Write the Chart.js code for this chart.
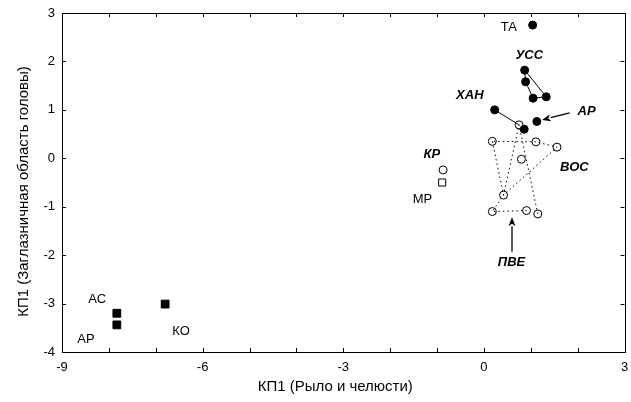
<!DOCTYPE html>
<html>
<head>
<meta charset="utf-8">
<script src="https://cdn.jsdelivr.net/npm/chart.js@4"></script>
<style>
html,body{margin:0;padding:0;background:#fff;}
canvas{display:block;}
</style>
</head>
<body>
<canvas id="c" width="631" height="402"></canvas>
<script>
// ---- data ----
const filledCirclesX = [1.04, 0.87, 0.89, 1.05, 1.33, 0.23, 0.86, 1.13];
const filledCirclesY = [2.75, 1.82, 1.58, 1.24, 1.27, 1.00, 0.60, 0.76];

const openCirclesX = [0.75, 0.18, 1.11, 1.56, 0.80, 0.42, 0.18, 0.91, 1.15, -0.87];
const openCirclesY = [0.69, 0.35, 0.34, 0.23, -0.02, -0.76, -1.10, -1.08, -1.15, -0.24];

const filledSquaresX = [-7.83, -7.83, -6.80];
const filledSquaresY = [-3.20, -3.44, -3.01];

const openSquaresX = [-0.89];
const openSquaresY = [-0.50];

// solid outlines
const ussPolyX = [0.87, 0.89, 1.05, 1.33, 0.87];
const ussPolyY = [1.82, 1.58, 1.24, 1.27, 1.82];
const hanLineX = [0.23, 0.75];
const hanLineY = [1.00, 0.69];

// dotted outlines
const dotPolyAX = [1.15, 0.75, 0.42, 0.18, 0.91];
const dotPolyAY = [-1.15, 0.69, -0.76, -1.10, -1.08];
const dotPolyBX = [0.18, 0.42, 1.56, 1.11, 0.18];
const dotPolyBY = [0.35, -0.76, 0.23, 0.34, 0.35];

// arrows: [tailX, tailY, tipX, tipY]
const arrowAP = [1.83, 0.94, 1.24, 0.79];
const arrowPVE = [0.60, -1.93, 0.60, -1.22];

// text labels
const labelText = ['ТА', 'УСС', 'ХАН', 'АР', 'ВОС', 'КР', 'МР', 'ПВЕ', 'АС', 'АР', 'КО'];
const labelX    = [0.53, 0.97, -0.30, 2.19, 1.93, -1.11, -1.31, 0.59, -8.25, -8.49, -6.46];
const labelY    = [2.71, 2.13, 1.29, 0.96, -0.18, 0.09, -0.84, -2.14, -2.91, -3.75, -3.57];
const labelBold = [false, true, true, true, true, true, false, true, false, false, false];

const xTitle = 'КП1 (Рыло и челюсти)';
const yTitle = 'КП1 (Заглазничная область головы)';
const xMin = -9, xMax = 3, yMin = -4, yMax = 3;

// ---- build ----
const pts = (xs, ys) => xs.map((x, i) => ({x, y: ys[i]}));
const FONT = "'Liberation Sans', Arial, sans-serif";

const lineDs = (xs, ys, dash) => ({
  type: 'line', data: pts(xs, ys), showLine: true, pointRadius: 0,
  borderColor: '#000', borderWidth: 1, borderDash: dash, fill: false,
  tension: 0, order: 5
});

const decor = {
  id: 'decor',
  afterDatasetsDraw(chart) {
    const {ctx, chartArea: a, scales: {x, y}} = chart;
    ctx.save();
    // box
    ctx.strokeStyle = '#000';
    ctx.lineWidth = 1;
    ctx.strokeRect(Math.round(a.left) + 0.5, Math.round(a.top) + 0.5,
                   Math.round(a.right - a.left), Math.round(a.bottom - a.top));
    // inward ticks
    const tl = 4;
    ctx.beginPath();
    x.ticks.forEach(t => {
      const px = Math.round(x.getPixelForValue(t.value)) + 0.5;
      ctx.moveTo(px, a.bottom); ctx.lineTo(px, a.bottom - tl);
      ctx.moveTo(px, a.top); ctx.lineTo(px, a.top + tl);
    });
    y.ticks.forEach(t => {
      const py = Math.round(y.getPixelForValue(t.value)) + 0.5;
      ctx.moveTo(a.left, py); ctx.lineTo(a.left + tl, py);
      ctx.moveTo(a.right, py); ctx.lineTo(a.right - tl, py);
    });
    ctx.stroke();
    // arrows
    [arrowAP, arrowPVE].forEach(ar => {
      const x0 = x.getPixelForValue(ar[0]), y0 = y.getPixelForValue(ar[1]);
      const x1 = x.getPixelForValue(ar[2]), y1 = y.getPixelForValue(ar[3]);
      const ang = Math.atan2(y1 - y0, x1 - x0);
      const hl = 9, hw = 3.5;
      const bx = x1 - hl * Math.cos(ang), by = y1 - hl * Math.sin(ang);
      ctx.beginPath();
      ctx.moveTo(x0, y0); ctx.lineTo(bx, by);
      ctx.lineWidth = 1.3;
      ctx.stroke();
      ctx.beginPath();
      ctx.moveTo(x1, y1);
      ctx.lineTo(bx + hw * Math.sin(ang), by - hw * Math.cos(ang));
      ctx.lineTo(x1 - (hl - 2.5) * Math.cos(ang), y1 - (hl - 2.5) * Math.sin(ang));
      ctx.lineTo(bx - hw * Math.sin(ang), by + hw * Math.cos(ang));
      ctx.closePath();
      ctx.fillStyle = '#000';
      ctx.fill();
    });
    // labels
    ctx.textAlign = 'center';
    ctx.textBaseline = 'middle';
    ctx.fillStyle = '#000';
    labelText.forEach((s, i) => {
      ctx.font = (labelBold[i] ? 'italic bold 13px ' : '13px ') + FONT;
      ctx.fillText(s, x.getPixelForValue(labelX[i]), y.getPixelForValue(labelY[i]));
    });
    // axis titles
    ctx.font = '15px ' + FONT;
    ctx.fillText(xTitle, (a.left + a.right) / 2 - 8, a.bottom + 35);
    ctx.save();
    ctx.translate(24, (a.top + a.bottom) / 2 + 9);
    ctx.rotate(-Math.PI / 2);
    ctx.fillText(yTitle, 0, 0);
    ctx.restore();
    ctx.restore();
  }
};

new Chart(document.getElementById('c'), {
  type: 'scatter',
  data: {
    datasets: [
      {data: pts(filledCirclesX, filledCirclesY), pointStyle: 'circle', pointRadius: 4,
       backgroundColor: '#000', borderColor: '#000', borderWidth: 1, order: 1},
      {data: pts(openCirclesX, openCirclesY), pointStyle: 'circle', pointRadius: 4,
       backgroundColor: 'rgba(255,255,255,0)', borderColor: '#000', borderWidth: 1, order: 2},
      {data: pts(filledSquaresX, filledSquaresY), pointStyle: 'rect', pointRadius: 5.5,
       backgroundColor: '#000', borderColor: '#000', borderWidth: 1, order: 1},
      {data: pts(openSquaresX, openSquaresY), pointStyle: 'rect', pointRadius: 5,
       backgroundColor: '#fff', borderColor: '#000', borderWidth: 1, order: 1},
      lineDs(ussPolyX, ussPolyY, []),
      lineDs(hanLineX, hanLineY, []),
      lineDs(dotPolyAX, dotPolyAY, [1.5, 3]),
      lineDs(dotPolyBX, dotPolyBY, [1.5, 3])
    ]
  },
  options: {
    responsive: false,
    animation: false,
    devicePixelRatio: 1,
    layout: {padding: {top: 13, right: 6, left: 0, bottom: 0}},
    plugins: {legend: {display: false}, tooltip: {enabled: false}},
    scales: {
      x: {
        type: 'linear', min: xMin, max: xMax,
        grid: {display: false, drawTicks: false}, border: {display: false},
        ticks: {stepSize: 1, color: '#000', font: {family: FONT, size: 13}, padding: 8,
                maxRotation: 0, autoSkip: false,
                callback: v => (v % 3 === 0 ? String(v) : '')},
        title: {display: false},
        afterFit: s => { s.height = 50; s.paddingLeft = 0; s.paddingRight = 0; }
      },
      y: {
        type: 'linear', min: yMin, max: yMax,
        grid: {display: false, drawTicks: false}, border: {display: false},
        ticks: {stepSize: 1, color: '#000', font: {family: FONT, size: 13}, padding: 7,
                callback: v => String(v)},
        title: {display: false},
        afterFit: s => { s.width = 62; s.paddingTop = 0; s.paddingBottom = 0; }
      }
    }
  },
  plugins: [decor]
});
</script>
</body>
</html>
